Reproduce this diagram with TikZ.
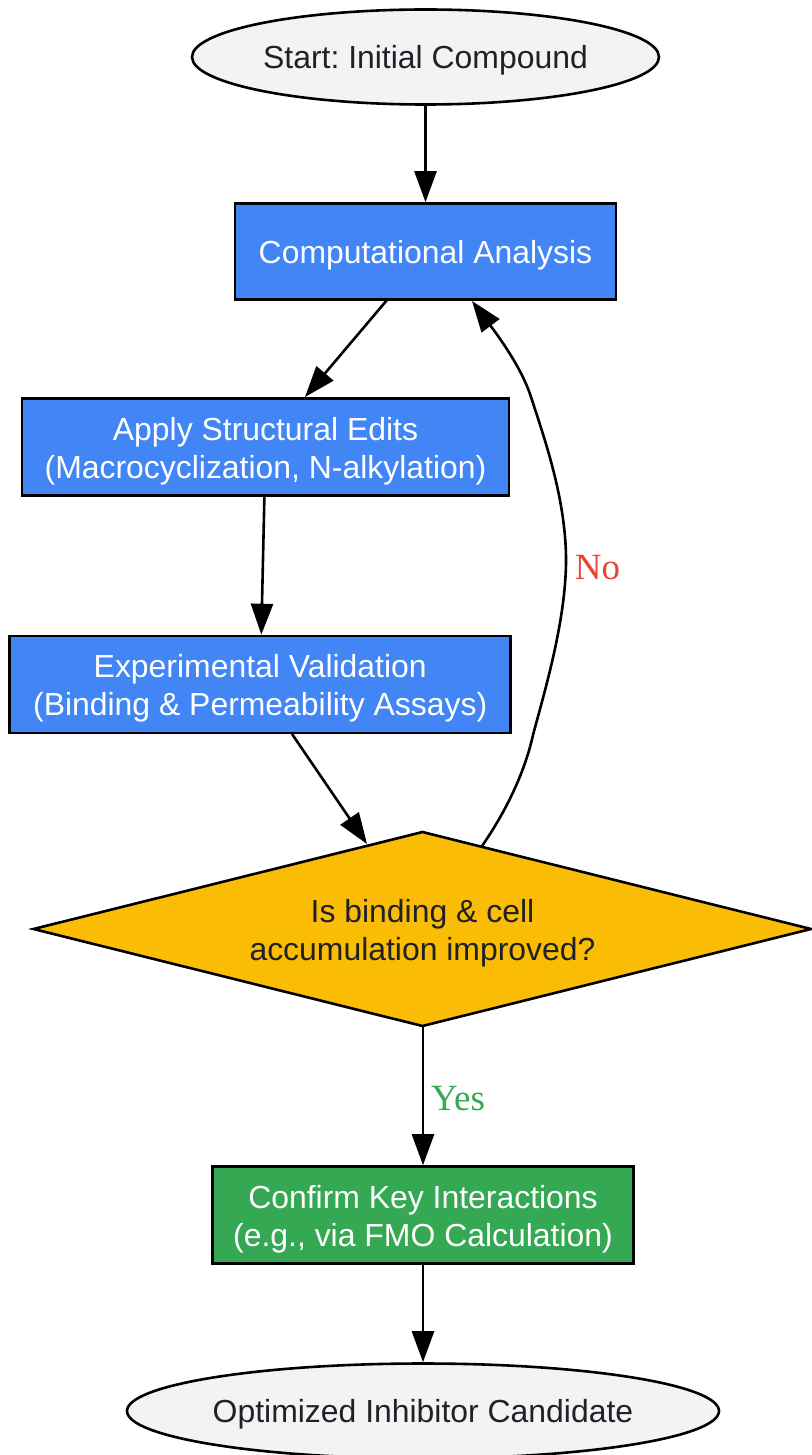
\documentclass[tikz,border=0pt]{standalone}
\usepackage{fontspec}
\setmainfont{Liberation Sans}
\newfontfamily\lblfont{Liberation Serif}
\usetikzlibrary{shapes.geometric,arrows.meta}
\definecolor{cblue}{HTML}{4285F4}
\definecolor{cgreen}{HTML}{34A853}
\definecolor{cyellow}{HTML}{FBBC05}
\definecolor{cgrey}{HTML}{F1F3F4}
\definecolor{cdark}{HTML}{202124}
\definecolor{cred}{HTML}{EA4335}
\newcommand{\lowerby}[2]{\raisebox{-#1pt}[\height][\depth]{#2}}
\tikzset{x=1pt,y=-1pt,
 base/.style={draw=black,line width=2.6pt,inner sep=0pt,align=center,font=\fontsize{31.92}{38.4}\selectfont},
 term/.style={base,ellipse,fill=cgrey,text=cdark},
 proc/.style={base,rectangle,fill=cblue,text=white},
 good/.style={base,rectangle,fill=cgreen,text=white},
 conn/.style={draw=black,line width=2.6pt,-{Triangle[length=31pt,width=22pt]}},
 lbl/.style={inner sep=0pt,font=\lblfont\fontsize{37}{44}\selectfont}}
\begin{document}
\frenchspacing
\begin{tikzpicture}
\useasboundingbox (0,0) rectangle (811,1455);
\node[term,minimum width=467pt,minimum height=95pt] (start) at (425.5,57) {\lowerby{3}{Start: Initial Compound}};
\node[proc,minimum width=381pt,minimum height=96pt] (comp) at (425.5,251.5) {\lowerby{4}{Computational Analysis}};
\node[proc,minimum width=487pt,minimum height=97pt] (edit) at (265.5,447) {\lowerby{4}{Apply Structural Edits}\\\lowerby{4}{(Macrocyclization, N-alkylation)}};
\node[proc,minimum width=501pt,minimum height=97pt] (exp) at (260.2,684.5) {\lowerby{4}{Experimental Validation}\\\lowerby{4}{(Binding \& Permeability Assays)}};
\path[base,fill=cyellow] (33.5,929) -- (422.5,832) -- (811,929) -- (422.5,1026) -- cycle;
\node[inner sep=0pt,align=center,text=cdark,font=\fontsize{31.92}{38.4}\selectfont] (dec) at (422.5,933) {Is binding \& cell\\accumulation improved?};
\node[good,minimum width=421pt,minimum height=97pt] (conf) at (423,1215) {\lowerby{4}{Confirm Key Interactions}\\\lowerby{4}{(e.g., via FMO Calculation)}};
\node[term,inner xsep=-3pt,minimum width=592pt,minimum height=95pt] (opt) at (423,1411) {\lowerby{3}{Optimized Inhibitor Candidate}};
\coordinate (decTopL) at (367,844);
\coordinate (decTopR) at (482,846);
\coordinate (decBot) at (423,1026);
\coordinate (compOut) at (387,300);
\coordinate (editIn) at (305,397);
\coordinate (expOut) at (292,734);
\coordinate (compIn) at (472,301);
\draw[conn] (start) -- (comp);
\draw[conn] (compOut) -- (editIn);
\draw[conn] (edit) -- (exp);
\draw[conn] (expOut) -- (decTopL);
\draw[conn] (decTopR) .. controls (500,820) and (523,780) .. (533,735)
  .. controls (545,690) and (566,620) .. (566,560)
  .. controls (566,500) and (545,440) .. (531,397)
  .. controls (523,372) and (505,345) .. (compIn);
\draw[conn] (decBot) -- (conf);
\draw[conn] (conf) -- (opt);
\node[lbl,text=cred] (no) at (597.5,567.5) {No};
\node[lbl,text=cgreen] (yes) at (458,1098.5) {Yes};
\end{tikzpicture}
\end{document}
